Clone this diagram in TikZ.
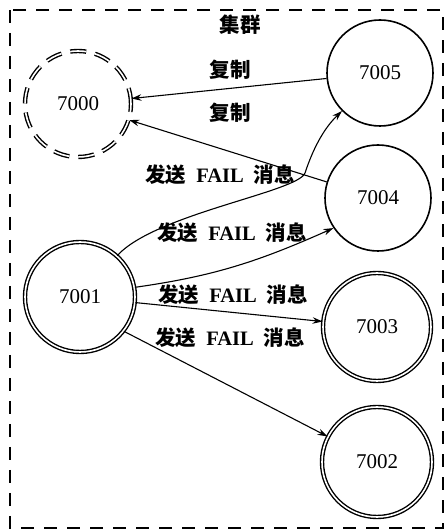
\documentclass[tikz,border=0pt]{standalone}
\usepackage{fontspec}
\setmainfont{Liberation Serif}
\newfontfamily\cjk{Noto Sans CJK SC}
\usetikzlibrary{arrows.meta}
\newcommand\cjkb[1]{{\cjk\bfseries #1}}
\newcommand\failmsg{\cjkb{发送}\hspace{10pt}\textbf{FAIL}\hspace{10pt}\cjkb{消息}}
\begin{document}
\begin{tikzpicture}[x=1pt,y=1pt,
  srv/.style={circle, draw, line width=1.6pt, minimum size=#1, inner sep=0pt,
    font=\fontsize{21}{21}\selectfont},
  dbl/.style={double, double distance=1.6pt, line width=1.4pt},
  lbl/.style={font=\fontsize{20.5}{21}\selectfont, inner sep=0pt},
  arr/.style={-{Stealth[length=10pt,width=6.5pt]}, line width=1.1pt},
  frame/.style={line width=2.2pt, dash pattern=on 13pt off 10pt}]
\useasboundingbox (0,0) rectangle (446,532);
\draw[frame] (10,522) rectangle (443,4);
% nodes
\node[srv=106, dbl, dash pattern=on 16pt off 9pt] (n7000) at (78,428) {7000};
\node[srv=106] (n7005) at (380,459) {7005};
\node[srv=106] (n7004) at (378,334) {7004};
\node[srv=110, dbl] (n7001) at (80,235) {7001};
\node[srv=108, dbl] (n7003) at (377,205) {7003};
\node[srv=110, dbl] (n7002) at (377,70) {7002};
% labels
\node[lbl] (tCluster) at (240,507) {\cjkb{集群}};
\node[lbl] (tRep1) at (230,462) {\cjkb{复制}};
\node[lbl] (tRep2) at (230,419) {\cjkb{复制}};
\node[lbl] (tFail1) at (220,357) {\failmsg};
\node[lbl] (tFail2) at (232,299) {\failmsg};
\node[lbl] (tFail3) at (233,237) {\failmsg};
\node[lbl] (tFail4) at (230,194) {\failmsg};
% connectors
\draw[arr] (n7005) -- (n7000);
\draw[arr] (n7004) -- (n7000);
\coordinate (m1) at (305,359);
\draw[arr] (n7001.48) .. controls (155,318) and (298,340) .. (m1)
  .. controls (310,374) and (320,400) .. (n7005.225);
\draw[arr] (n7001.10) to[out=8,in=204] (n7004.214);
\draw[arr] (n7001) -- (n7003);
\draw[arr] (n7001.-38) -- (n7002);
\end{tikzpicture}
\end{document}
